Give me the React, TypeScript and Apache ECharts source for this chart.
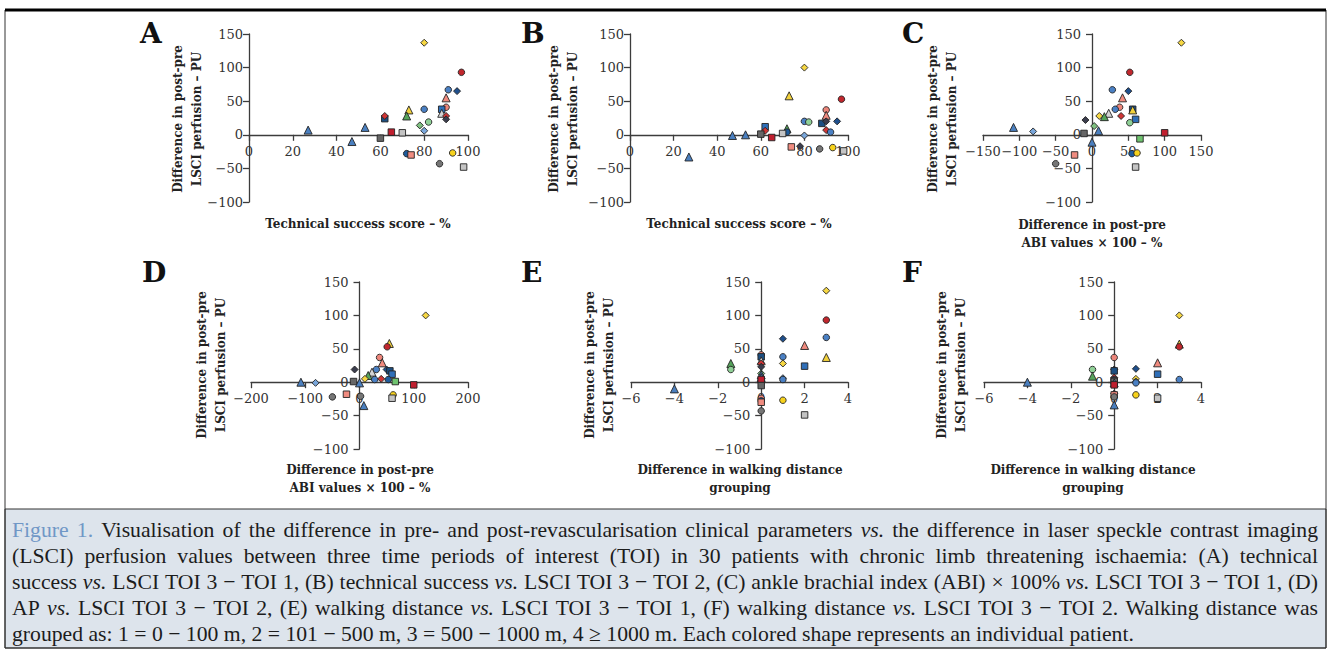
import React, { useEffect, useRef } from 'react';
import * as echarts from 'echarts';

type Pt = [number, number, string];

// marker style per patient shape/colour: [symbol, fill]
const markerStyles: Record<string, [string, string]> = {
  redC: ['circle', '#c1272d'],
  blueC: ['circle', '#4a80c4'],
  navyC: ['circle', '#1f5c9c'],
  salmonC: ['circle', '#ec857a'],
  greenC: ['circle', '#8fd096'],
  yellowC: ['circle', '#f7d21c'],
  grayC: ['circle', '#767676'],
  navyD: ['diamond', '#1f4f8c'],
  redD: ['diamond', '#cf3535'],
  darkD: ['diamond', '#3b3d4d'],
  greenD: ['diamond', '#7fc080'],
  blueD: ['diamond', '#79a6da'],
  yellowD: ['diamond', '#f6d743'],
  salmonT: ['triangle', '#f08a7e'],
  grayT: ['triangle', '#d4d4d4'],
  yellowT: ['triangle', '#f2d13c'],
  greenT: ['triangle', '#55a35a'],
  blueT: ['triangle', '#4a7fbf'],
  blueS: ['rect', '#2f6fb8'],
  navyS: ['rect', '#1c4f82'],
  redS: ['rect', '#c01f2f'],
  salmonS: ['rect', '#f08c80'],
  ltGrayS: ['rect', '#c4c4c4'],
  dkGrayS: ['rect', '#666666'],
  greenS: ['rect', '#6fc36f'],
};

// A: technical success score vs LSCI TOI3 - TOI1
const panelA: Pt[] = [
  [97, 93, 'redC'], [91, 67, 'blueC'], [95, 65, 'navyD'], [90, 55, 'salmonT'],
  [90, 41, 'salmonC'], [88, 38, 'blueS'], [88, 32, 'grayT'], [90, 28, 'redD'],
  [90, 23, 'darkD'], [80, 38, 'blueC'], [82, 19, 'greenC'], [78, 14, 'greenD'],
  [80, 6, 'blueD'], [73, 37, 'yellowT'], [72, 28, 'greenT'], [62, 24, 'navyS'],
  [62, 28, 'redD'], [65, 4, 'redS'], [70, 3, 'ltGrayS'], [60, -5, 'dkGrayS'],
  [53, 11, 'blueT'], [47, -10, 'blueT'], [27, 7, 'blueT'], [72, -28, 'navyC'],
  [74, -30, 'salmonS'], [93, -27, 'yellowC'], [87, -43, 'grayC'], [98, -48, 'ltGrayS'],
  [80, 137, 'yellowD'],
];

// B: technical success score vs LSCI TOI3 - TOI2
const panelB: Pt[] = [
  [80, 100, 'yellowD'], [73, 58, 'yellowT'], [97, 53, 'redC'], [90, 37, 'salmonC'],
  [90, 29, 'salmonT'], [88, 17, 'navyS'], [90, 20, 'darkD'], [95, 20, 'navyD'],
  [80, 20, 'blueC'], [82, 19, 'greenC'], [90, 7, 'redD'], [92, 4, 'blueC'],
  [80, -1, 'blueD'], [72, 9, 'greenT'], [72, 4, 'navyC'], [70, 2, 'ltGrayS'],
  [62, 12, 'blueS'], [62, 6, 'redD'], [60, 1, 'dkGrayS'], [65, -4, 'redS'],
  [53, 0, 'blueT'], [47, -1, 'blueT'], [27, -33, 'blueT'], [74, -18, 'salmonS'],
  [78, -17, 'darkD'], [87, -21, 'grayC'], [93, -19, 'yellowC'], [98, -24, 'ltGrayS'],
];

// C: ABI difference vs LSCI TOI3 - TOI1
const panelC: Pt[] = [
  [123, 137, 'yellowD'], [52, 93, 'redC'], [28, 67, 'blueC'], [50, 65, 'navyD'],
  [42, 55, 'salmonT'], [38, 41, 'salmonC'], [32, 38, 'blueC'], [56, 38, 'navyS'],
  [56, 37, 'yellowT'], [23, 32, 'grayT'], [10, 28, 'yellowD'], [17, 27, 'greenT'],
  [40, 28, 'redD'], [60, 23, 'blueS'], [-9, 22, 'darkD'], [52, 18, 'greenC'],
  [3, 13, 'greenD'], [9, 6, 'blueT'], [-81, 5, 'blueD'], [-108, 11, 'blueT'],
  [-11, 2, 'dkGrayS'], [100, 3, 'redS'], [66, -6, 'greenS'], [0, -11, 'blueT'],
  [55, -28, 'navyC'], [62, -27, 'yellowC'], [-24, -30, 'salmonS'], [-50, -43, 'grayC'],
  [60, -48, 'ltGrayS'],
];

// D: ABI difference vs LSCI TOI3 - TOI2
const panelD: Pt[] = [
  [122, 100, 'yellowD'], [55, 58, 'yellowT'], [51, 53, 'redC'], [37, 37, 'salmonC'],
  [42, 29, 'salmonT'], [-9, 19, 'darkD'], [31, 19, 'blueC'], [50, 19, 'navyD'],
  [23, 15, 'grayT'], [56, 17, 'navyS'], [60, 12, 'blueS'], [16, 10, 'greenT'],
  [10, 5, 'yellowD'], [28, 4, 'blueC'], [40, 5, 'redD'], [53, 4, 'navyC'],
  [66, 1, 'greenS'], [100, -4, 'redS'], [-108, 0, 'blueT'], [-81, -1, 'blueD'],
  [-11, 1, 'dkGrayS'], [0, -1, 'blueT'], [-50, -22, 'grayC'], [-24, -18, 'salmonS'],
  [2, -21, 'grayC'], [8, -35, 'blueT'], [62, -19, 'yellowC'], [60, -24, 'ltGrayS'],
];

// E: walking distance group difference vs LSCI TOI3 - TOI1
const panelE: Pt[] = [
  [3, 137, 'yellowD'], [3, 93, 'redC'], [3, 67, 'blueC'], [3, 37, 'yellowT'],
  [2, 55, 'salmonT'], [2, 24, 'blueS'], [2, -49, 'ltGrayS'], [1, 65, 'navyD'],
  [1, 38, 'blueC'], [1, 28, 'yellowD'], [1, 6, 'blueD'], [1, 4, 'blueC'],
  [1, -27, 'yellowC'], [-1.4, 28, 'greenT'], [-1.4, 19, 'greenC'], [-4, -10, 'blueT'],
  [0, 41, 'salmonC'], [0, 38, 'navyS'], [0, 32, 'grayT'], [0, 28, 'redD'],
  [0, 23, 'darkD'], [0, 13, 'greenD'], [0, 11, 'blueT'], [0, 7, 'blueT'],
  [0, 4, 'redS'], [0, -5, 'dkGrayS'], [0, -24, 'salmonC'], [0, -28, 'navyC'],
  [0, -30, 'salmonS'], [0, -43, 'grayC'],
];

// F: walking distance group difference vs LSCI TOI3 - TOI2
const panelF: Pt[] = [
  [3, 100, 'yellowD'], [3, 57, 'yellowT'], [3, 53, 'redC'], [3, 4, 'blueC'],
  [2, 29, 'salmonT'], [2, 12, 'blueS'], [2, -24, 'ltGrayS'], [1, 20, 'navyD'],
  [1, 5, 'yellowD'], [1, 1, 'blueD'], [1, -1, 'blueC'], [1, -19, 'yellowC'],
  [-1, 19, 'greenC'], [-1, 9, 'greenT'], [-4, 0, 'blueT'],
  [0, 37, 'salmonC'], [0, 19, 'darkD'], [0, 17, 'navyS'], [0, 7, 'redD'],
  [0, 4, 'navyC'], [0, 2, 'ltGrayS'], [0, 1, 'dkGrayS'], [0, -1, 'blueT'],
  [0, -4, 'redS'], [0, -17, 'darkD'], [0, -19, 'salmonS'], [0, -22, 'grayC'],
  [0, -34, 'blueT'],
];

const yTicks = { min: -100, max: 150, interval: 50 };
const xRangeTech = { min: 0, max: 100, interval: 20 };
const xRangeAbi1 = { min: -150, max: 150, interval: 50 };
const xRangeAbi2 = { min: -200, max: 200, interval: 100 };
const xRangeWalk = { min: -6, max: 4, interval: 2 };

const yTitle = 'Difference in post-pre\nLSCI perfusion – PU';
const xTitles = [
  'Technical success score – %',
  'Technical success score – %',
  'Difference in post-pre\nABI values × 100 – %',
  'Difference in post-pre\nABI values × 100 – %',
  'Difference in walking distance\ngrouping',
  'Difference in walking distance\ngrouping',
];
const letters = ['A', 'B', 'C', 'D', 'E', 'F'];

const captionLines = [
  'Figure 1. Visualisation of the difference in pre- and post-revascularisation clinical parameters vs. the difference in laser speckle contrast imaging',
  '(LSCI) perfusion values between three time periods of interest (TOI) in 30 patients with chronic limb threatening ischaemia: (A) technical',
  'success vs. LSCI TOI 3 − TOI 1, (B) technical success vs. LSCI TOI 3 − TOI 2, (C) ankle brachial index (ABI) × 100% vs. LSCI TOI 3 − TOI 1, (D)',
  'AP vs. LSCI TOI 3 − TOI 2, (E) walking distance vs. LSCI TOI 3 − TOI 1, (F) walking distance vs. LSCI TOI 3 − TOI 2. Walking distance was',
  'grouped as: 1 = 0 − 100 m, 2 = 101 − 500 m, 3 = 500 − 1000 m, 4 ≥ 1000 m. Each colored shape represents an individual patient.',
];

const SERIF = 'DejaVu Serif';
const CAP_FONT = 'Liberation Serif';
const CAP_SIZE = 21.7;

function fmt(v: number) {
  return v < 0 ? '−' + Math.abs(v) : String(v);
}

export default function App() {
  const ref = useRef<HTMLDivElement>(null);
  useEffect(() => {
    if (!ref.current) return;
    const chart = echarts.init(ref.current, undefined, { renderer: 'svg' });

    const panels = [
      { data: panelA, x: xRangeTech, yLabelMargin: 6, grid: { left: 249, top: 34, width: 219, height: 168 } },
      { data: panelB, x: xRangeTech, yLabelMargin: 6, grid: { left: 630, top: 34, width: 218, height: 168 } },
      { data: panelC, x: xRangeAbi1, yLabelMargin: 11, grid: { left: 983, top: 34, width: 218, height: 168 } },
      { data: panelD, x: xRangeAbi2, yLabelMargin: 11, grid: { left: 251, top: 282, width: 217, height: 167 } },
      { data: panelE, x: xRangeWalk, yLabelMargin: 11, grid: { left: 631, top: 282, width: 217, height: 167 } },
      { data: panelF, x: xRangeWalk, yLabelMargin: 11, grid: { left: 984, top: 282, width: 217, height: 167 } },
    ];
    const letterPos = [[140, 33], [521, 33], [902, 33], [142, 272], [521, 272], [902, 272]];
    const yTitlePos = [[187.5, 119], [563, 119], [942, 119], [211, 365], [599, 365], [951, 365]];
    const xTitlePos = [[358, 224], [739, 224], [1092, 234], [360, 479], [740, 479], [1093, 479]];

    const axisColor = '#3c3c3c';
    const labelStyle = { fontFamily: SERIF, fontSize: 13, color: '#333' };

    const graphic: any[] = [
      { type: 'rect', z: 0, shape: { x: 5, y: 509, width: 1321, height: 139 }, style: { fill: '#dde4ec', stroke: '#333', lineWidth: 1 } },
      { type: 'rect', z: 0, shape: { x: 5, y: 10, width: 1321, height: 638 }, style: { fill: 'none', stroke: '#333', lineWidth: 1 } },
      { type: 'line', z: 1, shape: { x1: 5, y1: 10, x2: 1326, y2: 10 }, style: { stroke: '#000', lineWidth: 3 } },
    ];
    letters.forEach((l, i) => {
      graphic.push({
        type: 'text', z: 5, x: letterPos[i][0], y: letterPos[i][1],
        style: { text: l, fontFamily: SERIF, fontWeight: 'bold', fontSize: 28, fill: '#111', align: 'left', verticalAlign: 'middle' },
      });
      graphic.push({
        type: 'text', z: 5, x: yTitlePos[i][0], y: yTitlePos[i][1], rotation: Math.PI / 2,
        style: { text: yTitle, fontFamily: SERIF, fontWeight: 'bold', fontSize: 12, lineHeight: 19, fill: '#222', align: 'center', verticalAlign: 'middle' },
      });
      graphic.push({
        type: 'text', z: 5, x: xTitlePos[i][0], y: xTitlePos[i][1],
        style: { text: xTitles[i], fontFamily: SERIF, fontWeight: 'bold', fontSize: 12, lineHeight: 18, fill: '#222', align: 'center', verticalAlign: 'middle' },
      });
    });

    // caption, justified like the original (word positions measured in the browser)
    const canvas = document.createElement('canvas');
    const ctx = canvas.getContext('2d') as CanvasRenderingContext2D;
    const measure = (t: string, italic: boolean) => {
      ctx.font = `${italic ? 'italic ' : ''}${CAP_SIZE}px "${CAP_FONT}"`;
      return ctx.measureText(t).width;
    };
    const capLeft = 12;
    const capRight = 1318;
    const capY = [530, 556, 582, 608, 634];
    captionLines.forEach((line, li) => {
      const words = line.split(' ');
      const styles = words.map((w, wi) => ({
        italic: w === 'vs.',
        blue: li === 0 && wi < 2,
      }));
      const widths = words.map((w, wi) => measure(w, styles[wi].italic));
      const total = widths.reduce((a, b) => a + b, 0);
      const justify = li < captionLines.length - 1;
      const gap = justify ? (capRight - capLeft - total) / (words.length - 1) : measure(' ', false);
      let cx = capLeft;
      words.forEach((w, wi) => {
        graphic.push({
          type: 'text', z: 5, x: cx, y: capY[li],
          style: {
            text: w, fontFamily: CAP_FONT, fontSize: CAP_SIZE,
            fontStyle: styles[wi].italic ? 'italic' : 'normal',
            fill: styles[wi].blue ? '#7097c6' : '#1c1c1c', align: 'left', verticalAlign: 'middle',
          },
        });
        cx += widths[wi] + gap;
      });
    });

    const option: any = {
      animation: false,
      backgroundColor: '#ffffff',
      grid: panels.map((p) => ({ ...p.grid, containLabel: false, outerBoundsMode: 'none' })),
      xAxis: panels.map((p, i) => ({
        type: 'value', gridIndex: i, min: p.x.min, max: p.x.max, interval: p.x.interval,
        // the x axis crosses at y = 0 of this panel's own y scale
        offset: -(p.grid.height * (0 - yTicks.min)) / (yTicks.max - yTicks.min),
        axisLine: { show: true, onZero: false, lineStyle: { color: axisColor, width: 1.3 } },
        axisTick: { show: true, inside: false, length: 6, lineStyle: { color: axisColor, width: 1.3 } },
        splitLine: { show: false },
        axisLabel: { ...labelStyle, margin: 10, formatter: fmt, showMinLabel: true, showMaxLabel: true, hideOverlap: false },
      })),
      yAxis: panels.map((p, i) => ({
        type: 'value', gridIndex: i, min: yTicks.min, max: yTicks.max, interval: yTicks.interval,
        // the y axis crosses at x = 0 of this panel's own x scale
        offset: -(p.grid.width * (0 - p.x.min)) / (p.x.max - p.x.min),
        axisLine: { show: true, onZero: false, lineStyle: { color: axisColor, width: 1.3 } },
        axisTick: { show: true, inside: false, length: 6, lineStyle: { color: axisColor, width: 1.3 } },
        splitLine: { show: false },
        axisLabel: { ...labelStyle, margin: p.yLabelMargin, formatter: fmt, showMinLabel: true, showMaxLabel: true, hideOverlap: false },
      })),
      series: panels.map((p, i) => ({
        type: 'scatter', xAxisIndex: i, yAxisIndex: i, z: 3,
        data: p.data.map(([x, y, k]) => {
          const [sym, col] = markerStyles[k];
          return {
            value: [x, y],
            symbol: sym,
            symbolSize: sym === 'triangle' ? 8 : sym === 'diamond' ? 7 : 6.5,
            itemStyle: { color: col, borderColor: '#222', borderWidth: 0.9, opacity: 1 },
          };
        }),
      })),
      graphic,
    };
    chart.setOption(option);
    return () => chart.dispose();
  }, []);
  return <div ref={ref} style={{ position: 'absolute', left: 0, top: 0, width: 1331, height: 653, background: '#fff' }} />;
}
